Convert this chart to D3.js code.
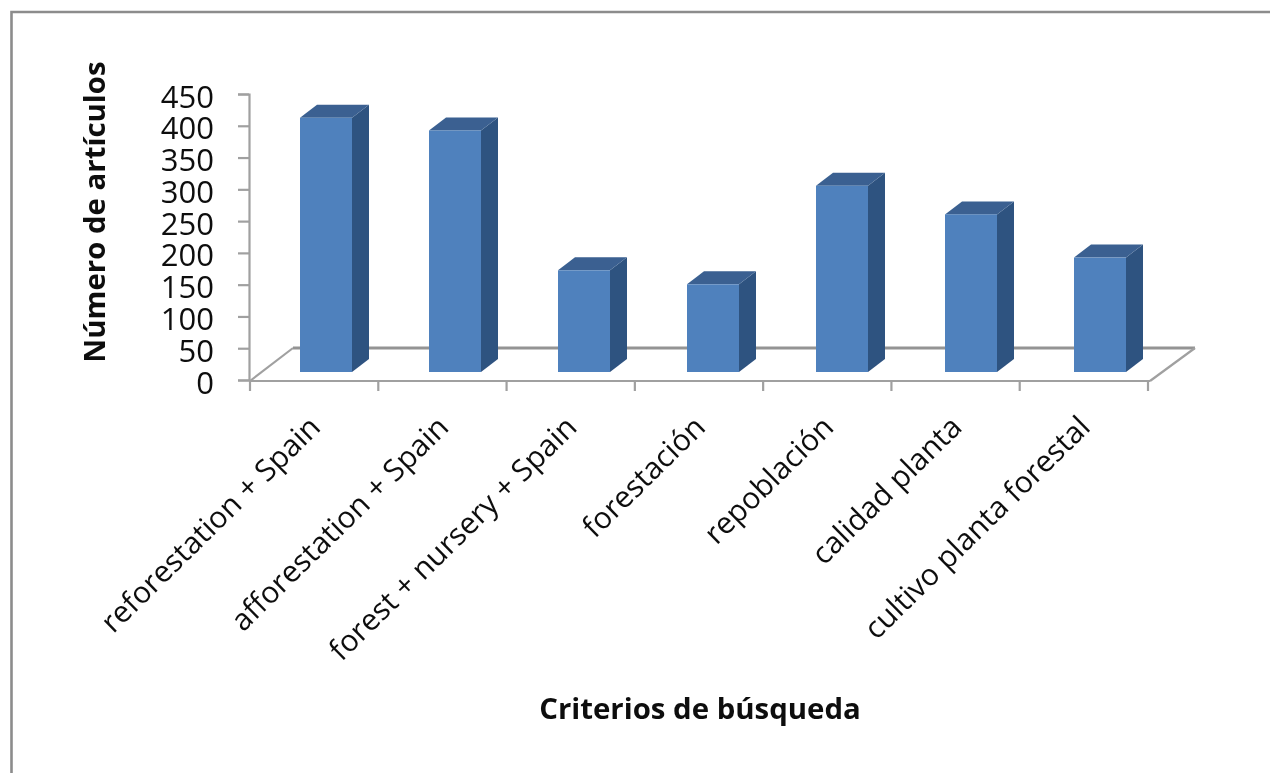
<!DOCTYPE html>
<html><head><meta charset="utf-8">
<script src="https://cdn.jsdelivr.net/npm/d3@7"></script>
<style>html,body{margin:0;padding:0;background:#fff}svg{display:block}text{font-family:"Open Sans",Lato,sans-serif;fill:#111}</style>
</head><body><div id="c"></div>
<script>
const categories=["reforestation + Spain","afforestation + Spain","forest + nursery + Spain","forestación","repoblación","calidad planta","cultivo planta forestal"];
const values=[400,380,160,138,293,248,180];
const yTicks=[0,50,100,150,200,250,300,350,400,450];
const yTitle="Número de artículos";
const xTitle="Criterios de búsqueda";

const W=1270,H=773;
const svg=d3.select("#c").append("svg").attr("width",W).attr("height",H);
const defs=svg.append("defs");
defs.append("filter").attr("id","soft").append("feGaussianBlur").attr("stdDeviation",0.6);
const g=svg.append("g").attr("filter","url(#soft)");

// frame
g.append("path").attr("d",`M11.5,773V12H${W}`).attr("fill","none").attr("stroke","#8c8c8c").attr("stroke-width",2.6);

const x=d3.scaleBand().domain(categories).range([250,1148]);
const xBar=d3.scaleBand().domain(categories).range([249.5,1152.5]);
const y=d3.scaleLinear().domain([0,450]).range([380,94]);
const dx=43,dy=-33, gridC="#a0a0a0";

// floor
const floor=[[250,381],[250+dx,381+dy],[1150+dx+2,381+dy],[1150,381],[250,381]];
g.append("path").attr("d","M"+floor.slice(0,2).join("L")).attr("fill","none").attr("stroke",gridC).attr("stroke-width",2.2);
g.append("path").attr("d","M"+floor.slice(1,3).join("L")).attr("fill","none").attr("stroke","#949494").attr("stroke-width",3.2);
g.append("path").attr("d","M"+floor.slice(2,4).join("L")).attr("fill","none").attr("stroke",gridC).attr("stroke-width",2.2);
g.append("path").attr("d","M"+floor.slice(3,5).join("L")).attr("fill","none").attr("stroke",gridC).attr("stroke-width",2.2);

// axes
const ay=g.append("g").attr("transform","translate(249,0)").call(d3.axisLeft(y).tickValues(yTicks).tickSize(11).tickPadding(24));
ay.selectAll("line").attr("stroke",gridC).attr("stroke-width",2.2);
ay.select(".domain").attr("stroke",gridC).attr("stroke-width",2.2);
ay.selectAll("text").attr("font-size",31).attr("font-family","Lato").attr("fill","#111").attr("dy","0.42em");

const tickPos=categories.map(c=>x(c)).concat([x.range()[1]]);
g.selectAll(".xt").data(tickPos).enter().append("line").attr("class","xt")
 .attr("x1",d=>d).attr("x2",d=>d).attr("y1",381).attr("y2",391).attr("stroke",gridC).attr("stroke-width",2.2);
g.selectAll(".cat").data(categories).enter().append("text").attr("class","cat")
 .attr("text-anchor","end").attr("font-size",30)
 .attr("transform",c=>`translate(${x(c)+x.bandwidth()/2+8},${429}) rotate(-44.5)`).text(c=>c);

// bars
const bw=52,ddx=17,ddy=-13,base=8,shift=12;
const bars=g.selectAll(".bar").data(categories.map((c,i)=>({c,v:values[i]}))).enter().append("g").attr("class","bar");
const L=d=>xBar(d.c)+xBar.bandwidth()/2-bw/2+shift, T=d=>y(d.v)-base, B=y(0)-base;
bars.append("path").attr("fill","#2f5280").attr("d",d=>{const r=L(d)+bw;return `M${r},${T(d)}L${r+ddx},${T(d)+ddy}L${r+ddx},${B+ddy}L${r},${B}Z`});
bars.append("path").attr("fill","#3a6191").attr("d",d=>{const l=L(d),t=T(d);return `M${l},${t}L${l+ddx},${t+ddy}L${l+bw+ddx},${t+ddy}L${l+bw},${t}Z`});
bars.append("rect").attr("fill","#4f81bd").attr("x",L).attr("y",T).attr("width",bw).attr("height",d=>B-T(d));

// titles
g.append("text").attr("text-anchor","middle").attr("font-weight",700).attr("font-size",29.4)
 .attr("transform","translate(105,212) rotate(-90)").text(yTitle);
g.append("text").attr("text-anchor","middle").attr("font-weight",700).attr("font-size",29.4)
 .attr("x",700).attr("y",719).text(xTitle);
</script></body></html>
